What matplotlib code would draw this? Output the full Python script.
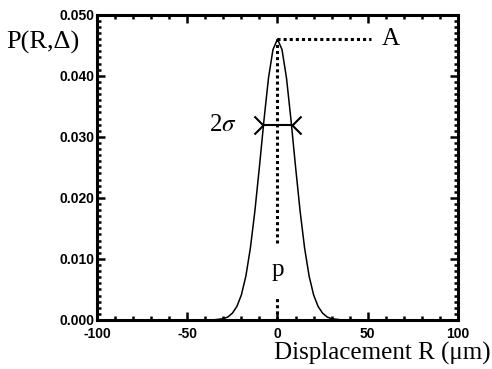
import matplotlib
matplotlib.use("Agg")
import matplotlib.pyplot as plt
from matplotlib.path import Path
from matplotlib.ticker import MultipleLocator

plt.rcParams["axes.unicode_minus"] = False

# Displacement distribution (um, probability)
displacement = [-100, -40, -35, -30, -27.5, -25, -22.5, -20, -17.5, -15, -12.5, -10, -7.5, -5, -2.5,
                0, 2.5, 5, 7.5, 10, 12.5, 15, 17.5, 20, 22.5, 25, 27.5, 30, 35, 40, 100]
probability = [0.0, 0.0, 0.00002, 0.0002, 0.00048, 0.0011, 0.0022, 0.0041, 0.0072, 0.0118, 0.0179,
               0.0251, 0.0327, 0.0396, 0.0443,
               0.0460, 0.0443, 0.0396, 0.0327, 0.0251, 0.0179, 0.0118, 0.0072, 0.0041, 0.0022,
               0.0011, 0.00048, 0.0002, 0.00002, 0.0, 0.0]

peak_x = 0.0
peak_a = 0.046
a_line_end = 52
width_level = 0.032
half_width = 7.8
p_gap = (0.0038, 0.0126)

serif = ["Liberation Serif", "DejaVu Serif"]
tickfont = ["Liberation Sans Narrow", "Liberation Sans", "DejaVu Sans"]

fig = plt.figure(figsize=(4.92, 3.69), dpi=100)
ax = fig.add_axes([0.197, 0.133, 0.734, 0.827])

ax.plot(displacement, probability, color="black", lw=1.1)

# A: peak height marker
ax.plot([peak_x, a_line_end], [peak_a, peak_a], color="black", lw=2.2, linestyle=(0, (1, 1)))
ax.text(a_line_end + 11, peak_a, "A", family=serif, fontsize=18, ha="center", va="center")

# p: peak position marker
ax.plot([peak_x, peak_x], [p_gap[1], peak_a], color="black", lw=2.2, linestyle=(0, (1, 1)))
ax.plot([peak_x, peak_x], [0, p_gap[0]], color="black", lw=2.2, linestyle=(0, (1, 1)))
ax.text(peak_x, sum(p_gap) / 2, "p", family=serif, fontsize=18, ha="center", va="center")

# 2 sigma width marker
ax.plot([-half_width, half_width], [width_level, width_level], color="black", lw=1.5)
head_r = Path([(-1, 1), (0, 0), (-1, -1)], [Path.MOVETO, Path.LINETO, Path.LINETO])
head_l = Path([(1, 1), (0, 0), (1, -1)], [Path.MOVETO, Path.LINETO, Path.LINETO])
ax.plot([-half_width], [width_level], marker=head_r, markersize=13, mfc="none", mec="black", mew=1.5)
ax.plot([half_width], [width_level], marker=head_l, markersize=13, mfc="none", mec="black", mew=1.5)
ax.text(-30, width_level, "2$\\sigma$", family=serif, fontsize=18, ha="center", va="center",
        math_fontfamily="stix")

ax.set_xlim(-100, 100)
ax.set_ylim(0, 0.05)
ax.xaxis.set_major_locator(MultipleLocator(50))
ax.xaxis.set_minor_locator(MultipleLocator(10))
ax.yaxis.set_major_locator(MultipleLocator(0.01))
ax.yaxis.set_minor_locator(MultipleLocator(0.001))
ax.yaxis.set_major_formatter(plt.FuncFormatter(lambda v, _: f"{v:.3f}"))
ax.tick_params(which="both", direction="in", top=True, right=True, width=1.8)
ax.tick_params(which="major", length=6)
ax.tick_params(which="minor", length=3)
ax.tick_params(axis="x", pad=5)
ax.tick_params(axis="y", pad=2)
for lab in ax.get_xticklabels() + ax.get_yticklabels():
    lab.set_family(tickfont)
    lab.set_fontweight("bold")
    lab.set_fontsize(10)
for s in ax.spines.values():
    s.set_linewidth(2.2)

fig.text(0.087, 0.886, "P(R,\u0394)", family=serif, fontsize=19, ha="center", va="center")
fig.text(0.998, 0.041, "Displacement R (\u03bcm)", family=serif, fontsize=18, ha="right", va="center")

fig.savefig("out.png", dpi=100)
